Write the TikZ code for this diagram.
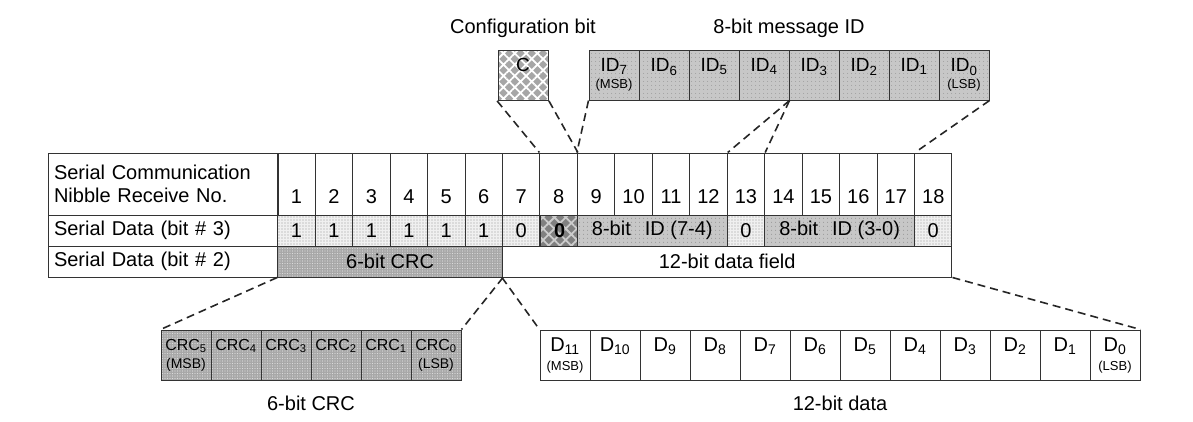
\documentclass[tikz,border=0pt]{standalone}
\usepackage{fontspec}
\setmainfont{Liberation Sans}
\usetikzlibrary{patterns.meta}

\newcommand\subfont{\fontsize{13}{13}\selectfont}

\tikzset{
  box/.style={draw=black!80, line width=1pt, rectangle, inner sep=0pt, minimum width=50pt, minimum height=50pt, align=center, font=\fontsize{19}{17}\selectfont},
  cell/.style={draw=black!80, line width=1pt, rectangle, inner sep=0pt, minimum width=37.46pt, minimum height=31pt},
  lab/.style={cell, minimum width=230pt, inner xsep=6pt, text width=218pt, align=left},
  lightfill/.style={preaction={fill=black!6}, pattern={Dots[distance=3pt,radius=0.7pt]}, pattern color=black!40},
  idfill/.style={preaction={fill=black!22}, pattern={Dots[distance=4pt,radius=0.6pt]}, pattern color=black!45},
  crcfill/.style={preaction={fill=black!34}, pattern={Dots[distance=2.5pt,radius=0.6pt]}, pattern color=black!14},
  cfill/.style={preaction={fill=black!35}, pattern={Hatch[angle=45,distance=8pt,line width=1.8pt]}, pattern color=white},
  cdark/.style={preaction={fill=black!50}, pattern={Hatch[angle=45,distance=8pt,line width=1.8pt]}, pattern color=black!20},
  conn/.style={draw=black!85, line width=1.6pt, dash pattern=on 8pt off 5pt},
}

\begin{document}
\begin{tikzpicture}[x=1pt, y=-1pt, font=\fontsize{20}{23}\selectfont]
\useasboundingbox (0,0) rectangle (1193,421);

\node (cfgtitle) at (523,28) {Configuration bit};
\node (idtitle) at (789,28) {8-bit message ID};

\node[box, cfill] (cfg) at (523,75) {C\\{\subfont\vphantom{(}}};
\foreach \k/\s in {7/(MSB),6/,5/,4/,3/,2/,1/,0/(LSB)}
  \node[box, idfill] (id\k) at ({614+(7-\k)*50},75) {ID\textsubscript{\k}\\{\subfont\vphantom{(}\s}};

\node[lab, minimum height=62pt] (hlab) at (163,184) {Serial Communication\\Nibble Receive No.};
\foreach \i in {1,...,18} {
  \node[cell, minimum height=62pt] (h\i) at ({277.7+(\i-0.5)*37.46},184) {};
  \node (num\i) at ({277.7+(\i-0.5)*37.46},197) {\i};
}

\node[lab] (r3lab) at (163,230.5) {Serial Data (bit \# 3)};
\foreach \i/\v in {1/1,2/1,3/1,4/1,5/1,6/1,7/0,13/0,18/0}
  \node[cell, lightfill] (b\i) at ({277.7+(\i-0.5)*37.46},230.5) {\v};
\node[cell, cdark] (b8) at (559.6,230.5) {\textbf{0}};
\node[cell, idfill, minimum width=149.84pt] (b9) at (652.3,230.5) {8-bit\hspace{0.7em}ID (7-4)};
\node[cell, idfill, minimum width=149.84pt] (b14) at (839.6,230.5) {8-bit\hspace{0.7em}ID (3-0)};

\node[lab] (r2lab) at (163,261.5) {Serial Data (bit \# 2)};
\node[cell, crcfill, minimum width=224.76pt] (crcf) at (390.1,261.5) {6-bit CRC};
\node[cell, minimum width=449.5pt] (dataf) at (727.2,261.5) {12-bit data field};

\foreach \k/\s in {5/(MSB),4/,3/,2/,1/,0/(LSB)}
  \node[box, crcfill, font=\fontsize{16}{18}\selectfont] (crc\k) at ({186+(5-\k)*50},355) {CRC\textsubscript{\k}\\{\fontsize{14}{14}\selectfont\vphantom{(}\s}};
\foreach \k/\s in {11/(MSB),10/,9/,8/,7/,6/,5/,4/,3/,2/,1/,0/(LSB)}
  \node[box, font=\fontsize{20}{19}\selectfont] (d\k) at ({565+(11-\k)*50},355) {D\textsubscript{\k}\\{\subfont\vphantom{(}\s}};

\node (crctitle) at (311,403) {6-bit CRC};
\node (datatitle) at (840,403) {12-bit data};

\draw[conn] (cfg.south west) -- (h8.north west);
\draw[conn] (cfg.south east) -- (h8.north east);
\draw[conn] (id7.south west) -- (h9.north west);
\draw[conn] (id4.south east) -- (h12.north east);
\draw[conn] (id4.south east) -- (h13.north east);
\draw[conn] (id0.south east) -- (h17.north east);
\draw[conn] (crcf.south west) -- (crc5.north west);
\draw[conn] (crcf.south east) -- (crc0.north east);
\draw[conn] (dataf.south west) -- (d11.north west);
\draw[conn] (dataf.south east) -- (d0.north east);

\end{tikzpicture}
\end{document}
